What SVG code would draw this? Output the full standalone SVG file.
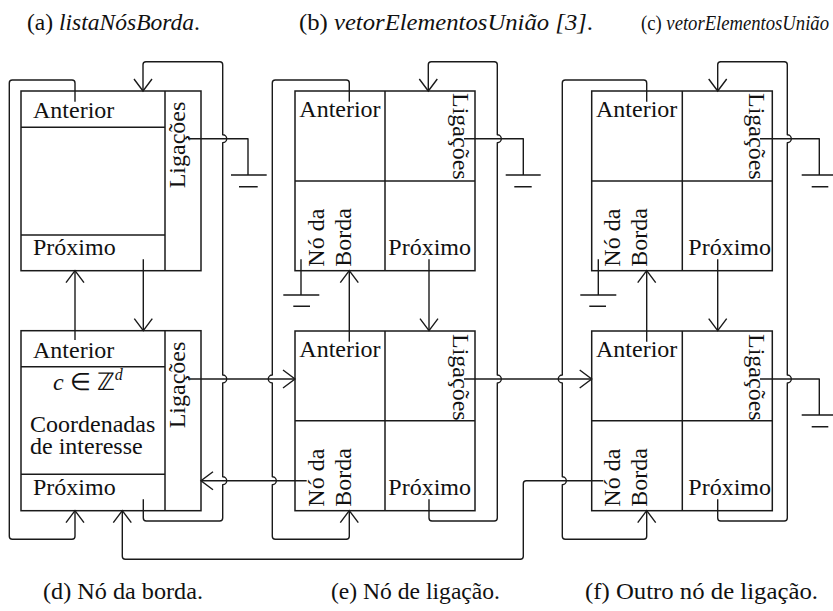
<svg xmlns="http://www.w3.org/2000/svg" width="833" height="611" viewBox="0 0 833 611" font-family="'Liberation Serif', 'Times New Roman', 'DejaVu Serif', serif">
<style>
.box{fill:none;stroke:#1a1a1a;stroke-width:1.5}
.c{fill:none;stroke:#1a1a1a;stroke-width:1.4;stroke-linejoin:round}
.a{marker-end:url(#ah)}
.t{font-size:24px;fill:#111}
.cap{font-size:23px;fill:#111}
.i{font-style:italic}
</style>
<defs>
<marker id="ah" markerUnits="userSpaceOnUse" markerWidth="30" markerHeight="30" viewBox="-15 -15 30 30" refX="0" refY="0" orient="auto" overflow="visible">
<path d="M-12,-9 L0,0 L-12,9" fill="none" stroke="#1a1a1a" stroke-width="1.4"/>
</marker>
</defs>
<rect width="833" height="611" fill="#fff"/>

<g id="captions" font-family="'Liberation Serif', 'Times New Roman', serif">
<text class="cap" x="27" y="30" textLength="173" lengthAdjust="spacingAndGlyphs">(a) <tspan class="i">listaNósBorda</tspan>.</text>
<text class="cap" x="299" y="30" textLength="294" lengthAdjust="spacingAndGlyphs">(b) <tspan class="i">vetorElementosUnião [3]</tspan>.</text>
<text class="cap" x="641" y="30" font-size="20" style="font-size:20px" textLength="188" lengthAdjust="spacingAndGlyphs">(c) <tspan class="i">vetorElementosUnião</tspan></text>
<text class="cap" x="43" y="599" textLength="160" lengthAdjust="spacingAndGlyphs">(d) Nó da borda.</text>
<text class="cap" x="331" y="599" textLength="169" lengthAdjust="spacingAndGlyphs">(e) Nó de ligação.</text>
<text class="cap" x="585" y="599" textLength="233" lengthAdjust="spacingAndGlyphs">(f) Outro nó de ligação.</text>
</g>

<g id="d-top" font-family="'Liberation Serif', 'Times New Roman', serif">
<rect class="box" x="21" y="91" width="180" height="179.7"/>
<line class="box" x1="165" y1="91" x2="165" y2="270.7"/>
<line class="box" x1="21" y1="127.3" x2="165" y2="127.3"/>
<line class="box" x1="21" y1="235" x2="165" y2="235"/>
<text class="t" x="33" y="118">Anterior</text>
<text class="t" x="33" y="255">Próximo</text>
<text class="t" text-anchor="middle" transform="translate(185,145) rotate(-90)">Ligações</text>
</g>

<g id="d-bottom" font-family="'Liberation Serif', 'Times New Roman', serif">
<rect class="box" x="21" y="330.7" width="180" height="180"/>
<line class="box" x1="165" y1="330.7" x2="165" y2="510.7"/>
<line class="box" x1="21" y1="366.7" x2="165" y2="366.7"/>
<line class="box" x1="21" y1="474.3" x2="165" y2="474.3"/>
<text class="t" x="33" y="357.5">Anterior</text>
<text class="t" x="53" y="390"><tspan class="i">c</tspan> ∈ ℤ<tspan class="i" font-size="16" dy="-10">d</tspan></text>
<text class="t" x="30" y="432">Coordenadas</text>
<text class="t" x="30" y="454">de interesse</text>
<text class="t" x="33" y="495">Próximo</text>
<text class="t" text-anchor="middle" transform="translate(185,385) rotate(-90)">Ligações</text>
</g>

<g id="e-top" font-family="'Liberation Serif', 'Times New Roman', serif">
<rect class="box" x="295" y="91" width="180" height="179.7"/>
<line class="box" x1="385" y1="91" x2="385" y2="270.7"/>
<line class="box" x1="295" y1="181" x2="475" y2="181"/>
<text class="t" x="299.3" y="117">Anterior</text>
<text class="t" x="388.3" y="255">Próximo</text>
<text class="t" transform="translate(453,93) rotate(90)">Ligações</text>
<text class="t" transform="translate(324,266.7) rotate(-90)">Nó da</text>
<text class="t" transform="translate(351,266.7) rotate(-90)">Borda</text>
</g>

<g id="e-bottom" font-family="'Liberation Serif', 'Times New Roman', serif">
<rect class="box" x="295" y="331" width="180" height="179.7"/>
<line class="box" x1="385" y1="331" x2="385" y2="510.7"/>
<line class="box" x1="295" y1="420.7" x2="475" y2="420.7"/>
<text class="t" x="299.3" y="357">Anterior</text>
<text class="t" x="388.3" y="495">Próximo</text>
<text class="t" transform="translate(453,334) rotate(90)">Ligações</text>
<text class="t" transform="translate(324,506.7) rotate(-90)">Nó da</text>
<text class="t" transform="translate(351,506.7) rotate(-90)">Borda</text>
</g>

<g id="f-top" font-family="'Liberation Serif', 'Times New Roman', serif">
<rect class="box" x="591.7" y="91" width="180.6" height="179.7"/>
<line class="box" x1="682.3" y1="91" x2="682.3" y2="270.7"/>
<line class="box" x1="591.7" y1="181" x2="772.3" y2="181"/>
<text class="t" x="596" y="117">Anterior</text>
<text class="t" x="688.3" y="255">Próximo</text>
<text class="t" transform="translate(749,93) rotate(90)">Ligações</text>
<text class="t" transform="translate(620,266.7) rotate(-90)">Nó da</text>
<text class="t" transform="translate(647,266.7) rotate(-90)">Borda</text>
</g>

<g id="f-bottom" font-family="'Liberation Serif', 'Times New Roman', serif">
<rect class="box" x="591.7" y="331" width="180.6" height="179.7"/>
<line class="box" x1="682.3" y1="331" x2="682.3" y2="510.7"/>
<line class="box" x1="591.7" y1="420.7" x2="772.3" y2="420.7"/>
<text class="t" x="596" y="357">Anterior</text>
<text class="t" x="688.3" y="495">Próximo</text>
<text class="t" transform="translate(749,334) rotate(90)">Ligações</text>
<text class="t" transform="translate(620,506.7) rotate(-90)">Nó da</text>
<text class="t" transform="translate(647,506.7) rotate(-90)">Borda</text>
</g>

<g id="connectors">
<path class="c a" d="M75,101.7 V83 Q75,80 72,80 H12.3 Q9.3,80 9.3,83 V536.3 Q9.3,539.3 12.3,539.3 H72 Q75,539.3 75,536.3 V510.7"/>
<path class="c a" d="M143.3,499.3 V518 Q143.3,521 146.3,521 H219.7 Q222.7,521 222.7,518 V484.7 A4,4 0 0 0 222.7,476.7 V383 A4,4 0 0 0 222.7,375 V142.7 A4,4 0 0 0 222.7,134.7 V64.7 Q222.7,61.7 219.7,61.7 H146 Q143,61.7 143,64.7 V91"/>
<path class="c a" d="M143.3,259.3 V330.7"/>
<path class="c a" d="M75,340 V270.7"/>
<path class="c" d="M188,138.7 H248 V175"/>
<path class="c a" d="M188,379 H295"/>
<path class="c a" d="M306.7,480.7 H201"/>
<path class="c a" d="M603.3,480.7 H526.3 Q523.3,480.7 523.3,483.7 V556.3 Q523.3,559.3 520.3,559.3 H125.3 Q122.3,559.3 122.3,556.3 V510.7"/>
<path class="c a" d="M349.3,101.7 V83 Q349.3,80 346.3,80 H275.3 Q272.3,80 272.3,83 V375 A4,4 0 0 0 272.3,383 V476.7 A4,4 0 0 1 272.3,484.7 V536.3 Q272.3,539.3 275.3,539.3 H346.3 Q349.3,539.3 349.3,536.3 V510.7"/>
<path class="c" d="M464,138.7 H523.3 V175"/>
<path class="c" d="M301,259.3 V295"/>
<path class="c a" d="M429,259.3 V330.7"/>
<path class="c a" d="M349.3,341.7 V270.7"/>
<path class="c a" d="M429,499.3 V518 Q429,521 432,521 H494.3 Q497.3,521 497.3,518 V383 A4,4 0 0 0 497.3,375 V142.7 A4,4 0 0 0 497.3,134.7 V64.7 Q497.3,61.7 494.3,61.7 H431.3 Q428.3,61.7 428.3,64.7 V91"/>
<path class="c a" d="M464,379 H591.7"/>
<path class="c a" d="M646.7,101.7 V83 Q646.7,80 643.7,80 H565.3 Q562.3,80 562.3,83 V375 A4,4 0 0 0 562.3,383 V476.7 A4,4 0 0 1 562.3,484.7 V536.3 Q562.3,539.3 565.3,539.3 H643.7 Q646.7,539.3 646.7,536.3 V510.7"/>
<path class="c" d="M760,138.7 H819.3 V175"/>
<path class="c" d="M598.3,259.3 V295"/>
<path class="c a" d="M717.7,259.3 V330.7"/>
<path class="c a" d="M646.7,341.7 V270.7"/>
<path class="c a" d="M717.7,499.3 V518 Q717.7,521 720.7,521 H784.3 Q787.3,521 787.3,518 V383 A4,4 0 0 0 787.3,375 V142.7 A4,4 0 0 0 787.3,134.7 V64.7 Q787.3,61.7 784.3,61.7 H720.7 Q717.7,61.7 717.7,64.7 V91"/>
<path class="c" d="M760,379 H819.3 V415"/>
<path class="c" d="M231,175 H266.7 M239,186.7 H257.7"/>
<path class="c" d="M505.7,175 H540.7 M514.3,186.7 H531.7"/>
<path class="c" d="M801.7,175 H836 M811.7,186.7 H828.3"/>
<path class="c" d="M801.7,415 H836 M811.7,426.7 H828.3"/>
<path class="c" d="M283.3,295 H319.3 M293.3,306.3 H310"/>
<path class="c" d="M580.3,295 H616.3 M589.3,306.3 H606"/>
</g>
</svg>
